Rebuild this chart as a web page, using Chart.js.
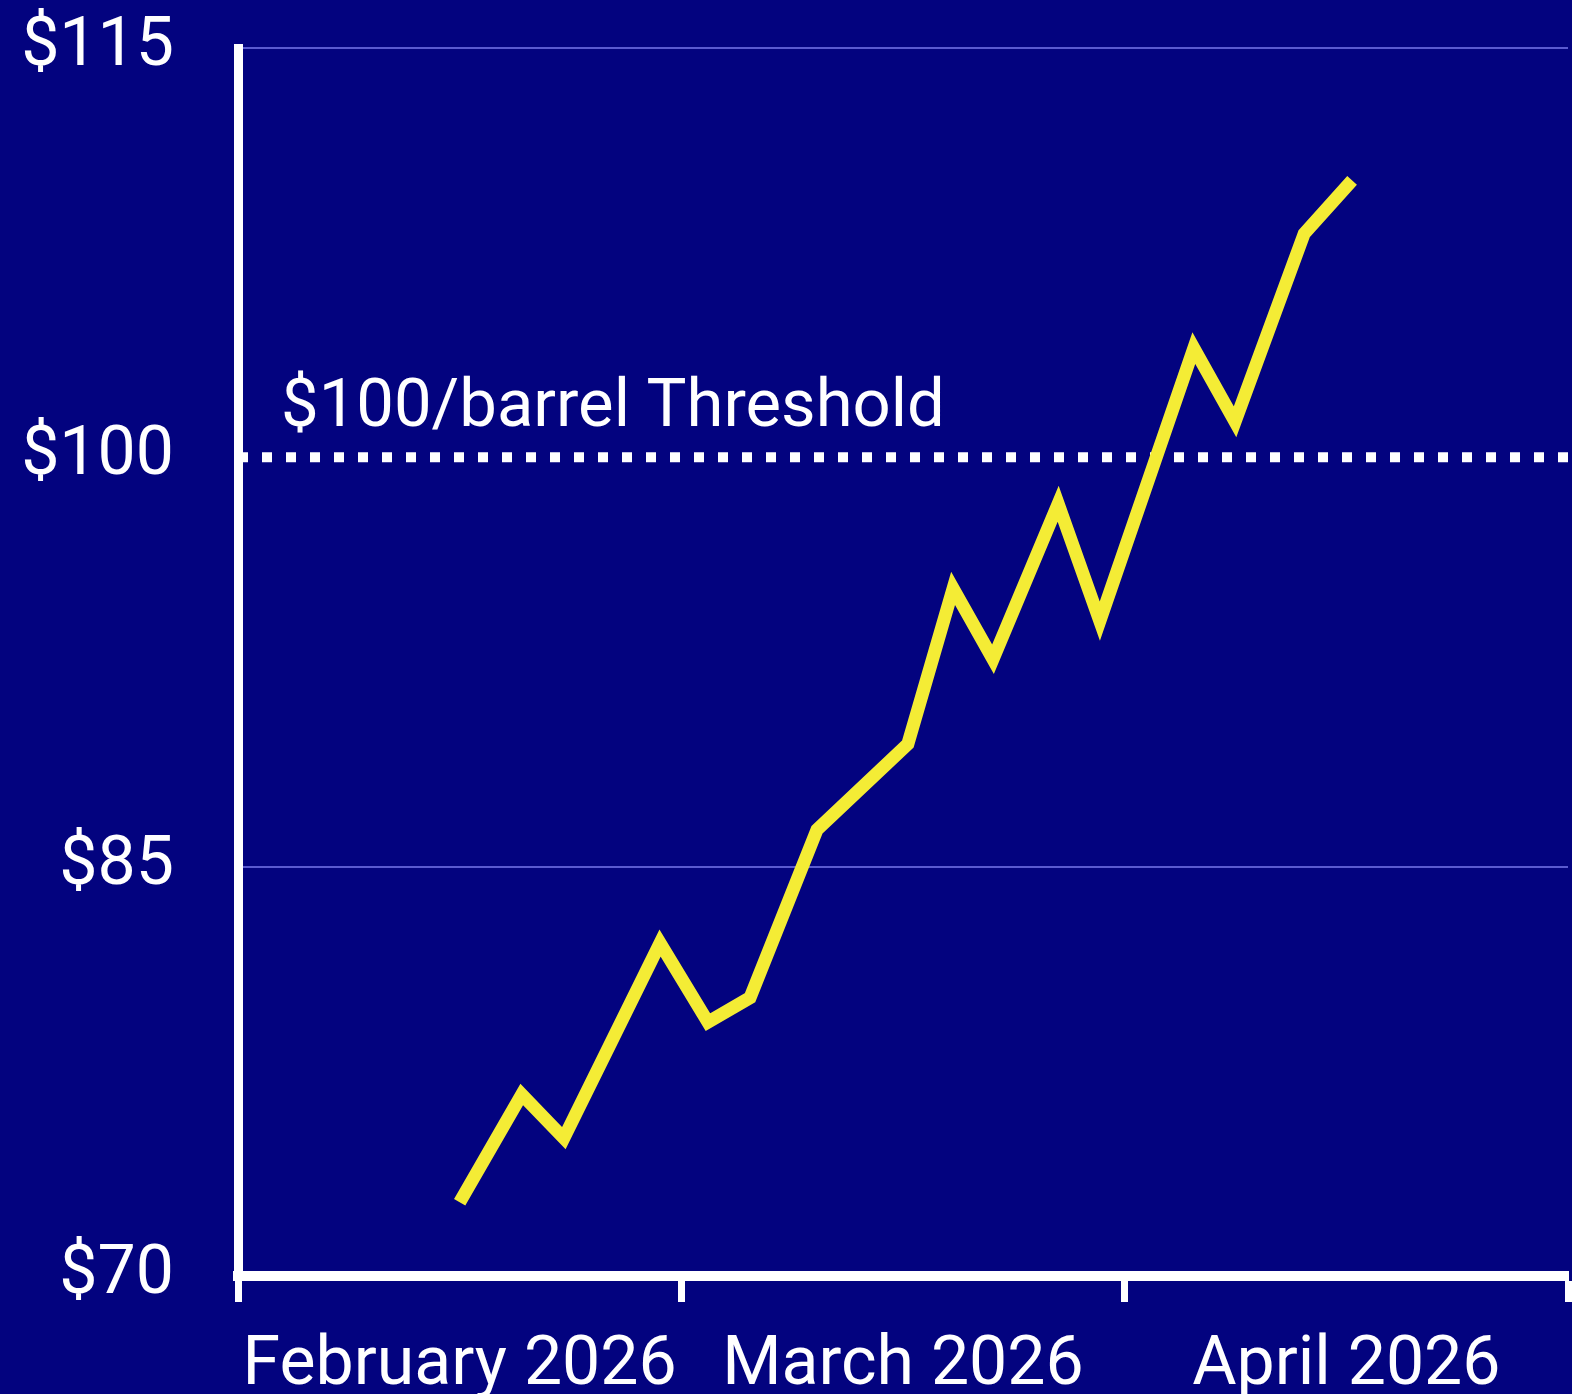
<!DOCTYPE html>
<html>
<head>
<meta charset="utf-8">
<script src="https://cdn.jsdelivr.net/npm/chart.js@4.4.1/dist/chart.umd.min.js"></script>
<style>
  html, body { margin: 0; padding: 0; background: #03037f; overflow: hidden; }
  canvas { display: block; }
</style>
</head>
<body>
<canvas id="c" width="1572" height="1394"></canvas>
<script>
// ---- data ----
const months = ['February 2026', 'March 2026', 'April 2026'];
// position of each observation, in months since start of February 2026
const monthPos = [0.50, 0.64, 0.735, 0.952, 1.06, 1.155, 1.306, 1.511, 1.613, 1.703, 1.85, 1.944, 2.156, 2.249, 2.405, 2.513];
// oil price, $/barrel
const prices = [72.7, 76.65, 75.05, 82.2, 79.3, 80.2, 86.35, 89.5, 95.2, 92.6, 98.3, 94.0, 104.0, 101.3, 108.2, 110.15];
const yTickValues = [70, 85, 100, 115];
const threshold = 100;
const thresholdLabel = '$100/barrel Threshold';

Chart.defaults.font.family = 'Roboto';

const isWhole = v => Math.abs(v - Math.round(v)) < 1e-6;

const thresholdLabelPlugin = {
  id: 'thresholdLabel',
  afterDatasetsDraw(chart) {
    const { ctx, scales: { x, y } } = chart;
    ctx.save();
    ctx.font = '67px Roboto';
    ctx.fillStyle = '#ffffff';
    ctx.textBaseline = 'alphabetic';
    ctx.textAlign = 'left';
    ctx.fillText(thresholdLabel, x.getPixelForValue(0) + 43, y.getPixelForValue(threshold) - 31);
    ctx.restore();
  }
};

new Chart(document.getElementById('c'), {
  type: 'line',
  data: {
    datasets: [
      {
        label: 'Oil price',
        data: monthPos.map((m, i) => ({ x: m, y: prices[i] })),
        borderColor: '#f4ec35',
        borderWidth: 13,
        borderJoinStyle: 'miter',
        borderCapStyle: 'butt',
        pointRadius: 0,
        tension: 0,
        fill: false
      },
      {
        label: 'Threshold',
        data: [{ x: 0, y: threshold }, { x: months.length, y: threshold }],
        borderColor: '#ffffff',
        borderWidth: 10,
        borderDash: [10, 14],
        borderCapStyle: 'butt',
        pointRadius: 0,
        fill: false
      }
    ]
  },
  options: {
    responsive: false,
    animation: false,
    events: [],
    layout: { padding: { top: 48, right: 4, left: 0, bottom: 0 } },
    plugins: { legend: { display: false }, tooltip: { enabled: false } },
    scales: {
      x: {
        type: 'linear',
        min: 0,
        max: months.length,
        afterFit(scale) {
          scale.height = 118;
          scale.paddingLeft = 0; scale.paddingRight = 0;
          scale.paddingTop = 0; scale.paddingBottom = 0;
        },
        ticks: {
          stepSize: 0.5,
          autoSkip: false,
          maxRotation: 0,
          color: '#ffffff',
          font: { size: 68 },
          padding: 24,
          callback: v => isWhole(v) ? '' : months[Math.floor(v)]
        },
        grid: {
          drawOnChartArea: false,
          drawTicks: true,
          tickLength: 26,
          tickWidth: 7,
          tickColor: ctx => (ctx.tick && isWhole(ctx.tick.value)) ? '#ffffff' : 'rgba(0,0,0,0)'
        },
        border: { display: true, color: '#ffffff', width: 10 }
      },
      y: {
        type: 'linear',
        min: yTickValues[0],
        max: yTickValues[yTickValues.length - 1],
        afterFit(scale) {
          scale.width = 238;
          scale.paddingLeft = 0; scale.paddingRight = 0;
          scale.paddingTop = 0; scale.paddingBottom = 0;
        },
        afterBuildTicks(scale) { scale.ticks = yTickValues.map(v => ({ value: v })); },
        ticks: {
          color: '#ffffff',
          font: { size: 68 },
          padding: 64,
          callback: v => '$' + v
        },
        grid: {
          drawTicks: false,
          color: ctx => (ctx.tick && ctx.tick.value === threshold) ? 'rgba(0,0,0,0)' : 'rgba(120,120,235,0.75)',
          lineWidth: 2
        },
        border: { display: true, color: '#ffffff', width: 9 }
      }
    }
  },
  plugins: [thresholdLabelPlugin]
});
</script>
</body>
</html>
